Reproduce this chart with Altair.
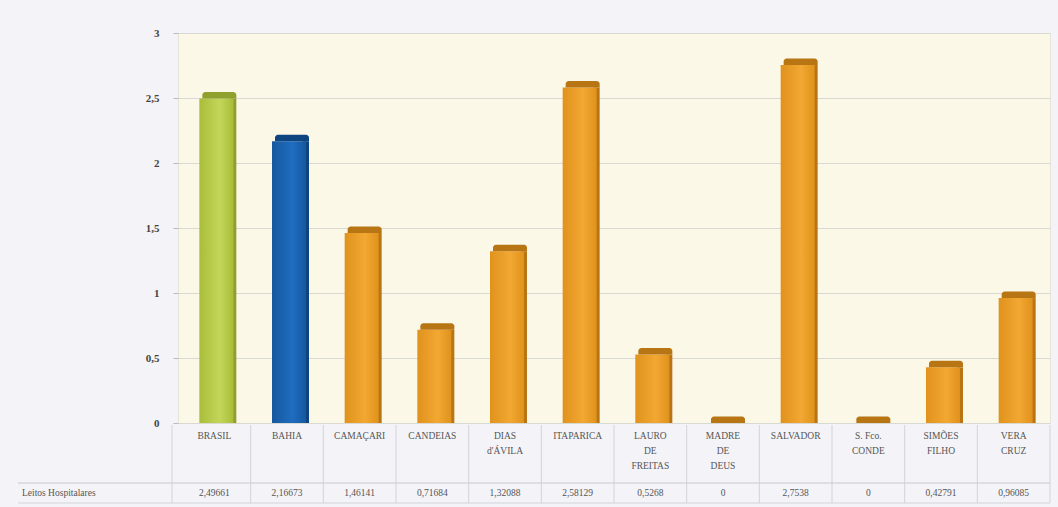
import altair as alt
import pandas as pd

categories = ["BRASIL", "BAHIA", "CAMAÇARI", "CANDEIAS", "DIAS|d'ÁVILA", "ITAPARICA",
              "LAURO|DE|FREITAS", "MADRE|DE|DEUS", "SALVADOR", "S. Fco.|CONDE",
              "SIMÕES|FILHO", "VERA|CRUZ"]
values = [2.49661, 2.16673, 1.46141, 0.71684, 1.32088, 2.58129, 0.5268, 0, 2.7538, 0,
          0.42791, 0.96085]
table_labels = ["2,49661", "2,16673", "1,46141", "0,71684", "1,32088", "2,58129",
                "0,5268", "0", "2,7538", "0", "0,42791", "0,96085"]
groups = ["Brasil", "Bahia"] + ["Município"] * 10
row_label = "Leitos Hospitalares"

df = pd.DataFrame({"cat": categories, "value": values, "label": table_labels, "group": groups})
df["cap"] = df["value"] + 0.05
one = pd.DataFrame({"row": [row_label]})

W, H = 872, 390
order = categories

x = alt.X("cat:N", sort=order, axis=None, scale=alt.Scale(paddingInner=0, paddingOuter=0))
yscale = alt.Scale(domain=[0, 3], nice=False)

def grad(c1, c2):
    return alt.Gradient(gradient="linear", x1=0, x2=1, y1=0, y2=0,
                        stops=[alt.GradientStop(color=c1, offset=0),
                               alt.GradientStop(color=c2, offset=0.6),
                               alt.GradientStop(color=c1, offset=1)])

palette = {
    "Brasil": ("#a9bd3a", "#c4d65a", "#8fa02c"),
    "Bahia": ("#16589f", "#1f6cc0", "#0e4580"),
    "Município": ("#e0921c", "#f2a833", "#b87514"),
}

base = alt.Chart(df)
single = alt.Chart(one)

yaxis = alt.Axis(values=[0, 0.5, 1, 1.5, 2, 2.5, 3],
                 labelExpr="replace(format(datum.value, '~g'), '.', ',')",
                 grid=True, gridColor="#d9d9d4", gridWidth=1, domain=False, tickColor="#bbbbbb",
                 tickSize=5, labelPadding=14, labelColor="#444444", labelFontSize=11,
                 labelFont="Liberation Serif", title=None, labelFontWeight="bold")

layers = []
layers.append(base.mark_bar(opacity=0).encode(x=x, y=alt.Y("value:Q", scale=yscale, axis=yaxis)))

for g, (c1, c2, cdark) in palette.items():
    sub = base.transform_filter(alt.datum.group == g)
    layers.append(sub.mark_bar(width=6, xOffset=19, fill=cdark).encode(
        x=x, y=alt.Y("value:Q", scale=yscale), y2=alt.value(H)))
    layers.append(sub.mark_bar(width=34, xOffset=2, fill=grad(c1, c2)).encode(
        x=x, y=alt.Y("value:Q", scale=yscale), y2=alt.value(H)))
    layers.append(sub.mark_bar(width=34, xOffset=5, fill=cdark, cornerRadiusTopLeft=3,
                               cornerRadiusTopRight=3).encode(
        x=x, y=alt.Y("cap:Q", scale=yscale), y2="value:Q"))

layers.append(base.mark_text(baseline="top", align="center", lineBreak="|", lineHeight=15,
                             font="Liberation Serif", fontSize=9.5, fontWeight="normal",
                             color="#555555").encode(
    x=x, y=alt.value(H + 8), text="cat:N"))
layers.append(base.mark_text(baseline="middle", align="center", font="Liberation Serif",
                             fontSize=9.5, fontWeight="normal", color="#555555").encode(
    x=x, y=alt.value(H + 70), text="label:N"))
layers.append(base.mark_rule(color="#d3d3dc", xOffset=W / 24).encode(
    x=x, y=alt.value(H + 2), y2=alt.value(H + 80)))
layers.append(single.mark_rule(color="#d3d3dc").encode(
    x=alt.value(-6), y=alt.value(H + 2), y2=alt.value(H + 80)))
layers.append(single.mark_rule(color="#c8c8d2").encode(
    x=alt.value(-160), x2=alt.value(W), y=alt.value(H + 60)))
layers.append(single.mark_rule(color="#d3d3dc").encode(
    x=alt.value(-160), x2=alt.value(W), y=alt.value(H + 80)))
layers.append(single.mark_text(baseline="middle", align="left", font="Liberation Serif",
                               fontSize=9.5, fontWeight="normal", color="#555555").encode(
    x=alt.value(-156), y=alt.value(H + 70), text="row:N"))

chart = alt.layer(*layers).properties(
    width=W, height=H,
    padding={"left": 178, "top": 33, "right": 8, "bottom": 84},
    autosize=alt.AutoSizeParams(type="none"),
    background="#f3f3f8",
).configure_view(
    fill="#fbf8e8", stroke="#e6e4d8"
)

chart.save("out.html", embed_options={"renderer": "svg", "actions": False})
